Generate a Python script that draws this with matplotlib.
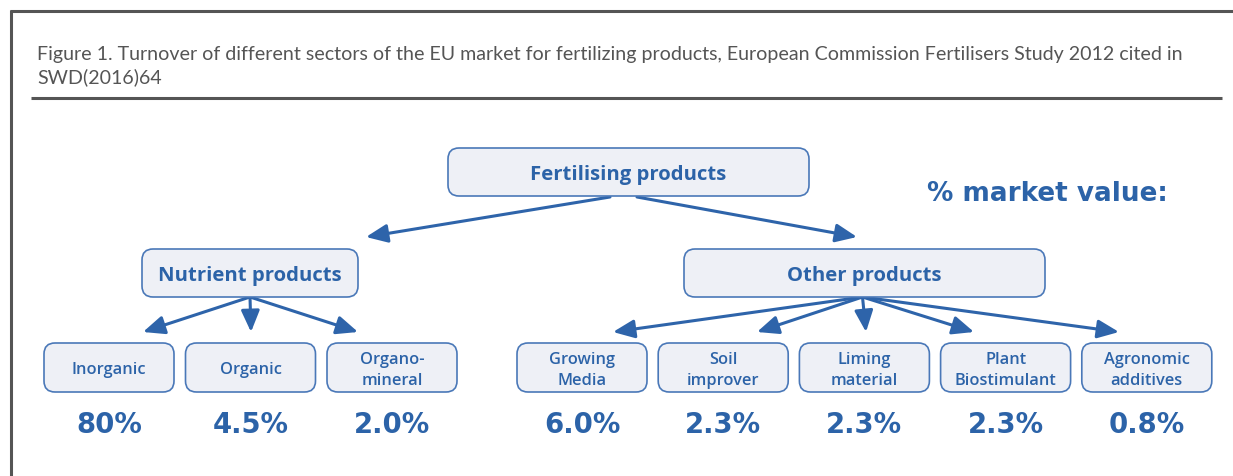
import matplotlib
matplotlib.use("Agg")
import matplotlib.pyplot as plt
from matplotlib.patches import FancyBboxPatch
from matplotlib.lines import Line2D

# ---------------- data ----------------
title_lines = [
    "Figure 1. Turnover of different sectors of the EU market for fertilizing products, European Commission Fertilisers Study 2012 cited in",
    "SWD(2016)64",
]
root_label = "Fertilising products"
group_labels = ["Nutrient products", "Other products"]
nutrient_labels = ["Inorganic", "Organic", "Organo-\nmineral"]
nutrient_values = ["80%", "4.5%", "2.0%"]
other_labels = ["Growing\nMedia", "Soil\nimprover", "Liming\nmaterial", "Plant\nBiostimulant", "Agronomic\nadditives"]
other_values = ["6.0%", "2.3%", "2.3%", "2.3%", "0.8%"]
legend_label = "% market value:"

# ---------------- style ----------------
BLUE_TXT = "#2c63a8"
BLUE_EDGE = "#4a78b8"
BLUE_ARROW = "#2e64aa"
FILL = "#eef0f6"
GRAY = "#555555"

W, H = 1233, 477
fig = plt.figure(figsize=(W / 100, H / 100), dpi=100)
ax = fig.add_axes([0, 0, 1, 1])
ax.set_xlim(0, W)
ax.set_ylim(H, 0)
ax.axis("off")

# frame and separator
ax.add_line(Line2D([10, W], [12, 12], color=GRAY, lw=2.2, solid_capstyle="butt"))
ax.add_line(Line2D([11, 11], [11, H], color=GRAY, lw=2.2, solid_capstyle="butt"))
ax.add_line(Line2D([31, 1222], [99, 99], color=GRAY, lw=2.2, solid_capstyle="butt"))

# title
for i, line in enumerate(title_lines):
    ax.text(37, 60 + 23 * i, line, fontsize=14.1, family="Lato", weight="normal",
            color="#555555", va="baseline", ha="left")


def box(x0, y0, w, h, label, fs, weight="bold", ls=1.2, dy=0):
    p = FancyBboxPatch((x0, y0), w, h, boxstyle="round,pad=0,rounding_size=11",
                       facecolor=FILL, edgecolor=BLUE_EDGE, lw=1.2, zorder=2)
    ax.add_patch(p)
    ax.text(x0 + w / 2, y0 + h / 2 + dy, label, fontsize=fs, family="Open Sans",
            weight=weight, color=BLUE_TXT, ha="center", va="center",
            linespacing=ls, zorder=3)


def arrow(x0, y0, x1, y1):
    ax.annotate("", xy=(x1, y1), xytext=(x0, y0),
                arrowprops=dict(arrowstyle="-|>,head_length=0.65,head_width=0.28",
                                mutation_scale=20, color=BLUE_ARROW, lw=2.2,
                                shrinkA=0, shrinkB=0), zorder=1)


# root box
rx, ry, rw, rh = 448, 149, 361, 48
box(rx, ry, rw, rh, root_label, 14.6, weight="bold", dy=2)

# group boxes
gy, gh = 250, 48
gx = [142, 684]
gw = [216, 361]
for x, w, lab in zip(gx, gw, group_labels):
    box(x, gy, w, gh, lab, 14.6, weight="bold", dy=2)

# root -> group arrows
arrow(610, 198, 366, 238)
arrow(637, 198, 857, 238)

# leaf boxes
ly, lh, lw_ = 344, 49, 130
n_x = [44 + i * 141.5 for i in range(len(nutrient_labels))]
o_x = [517 + i * 141.2 for i in range(len(other_labels))]

n_center = gx[0] + gw[0] / 2
o_center = gx[1] + gw[1] / 2
tip_y = 333

PCT_FONT = dict(fontsize=19.8, family="DejaVu Sans", weight="bold",
                color=BLUE_TXT, ha="center", va="baseline")

for x, lab, val in zip(n_x, nutrient_labels, nutrient_values):
    box(x, ly, lw_, lh, lab, 11.8, weight="semibold", ls=1.45, dy=2)
    ax.text(x + lw_ / 2, 433, val, **PCT_FONT)

for x, lab, val in zip(o_x, other_labels, other_values):
    box(x, ly, lw_, lh, lab, 11.8, weight="semibold", ls=1.45, dy=2)
    ax.text(x + lw_ / 2, 433, val, **PCT_FONT)

# group -> leaf arrows
n_tips = [143, 251, 358]
for tx in n_tips:
    arrow(n_center, 298, tx, tip_y)
o_tips = [613, 757, 866, 974, 1119]
for tx in o_tips:
    arrow(o_center - 2, 298, tx, tip_y)

# legend text
ax.text(927, 201, legend_label, fontsize=18.9, family="DejaVu Sans", weight="bold",
        color=BLUE_TXT, ha="left", va="baseline")

fig.savefig("out.png", dpi=100)
